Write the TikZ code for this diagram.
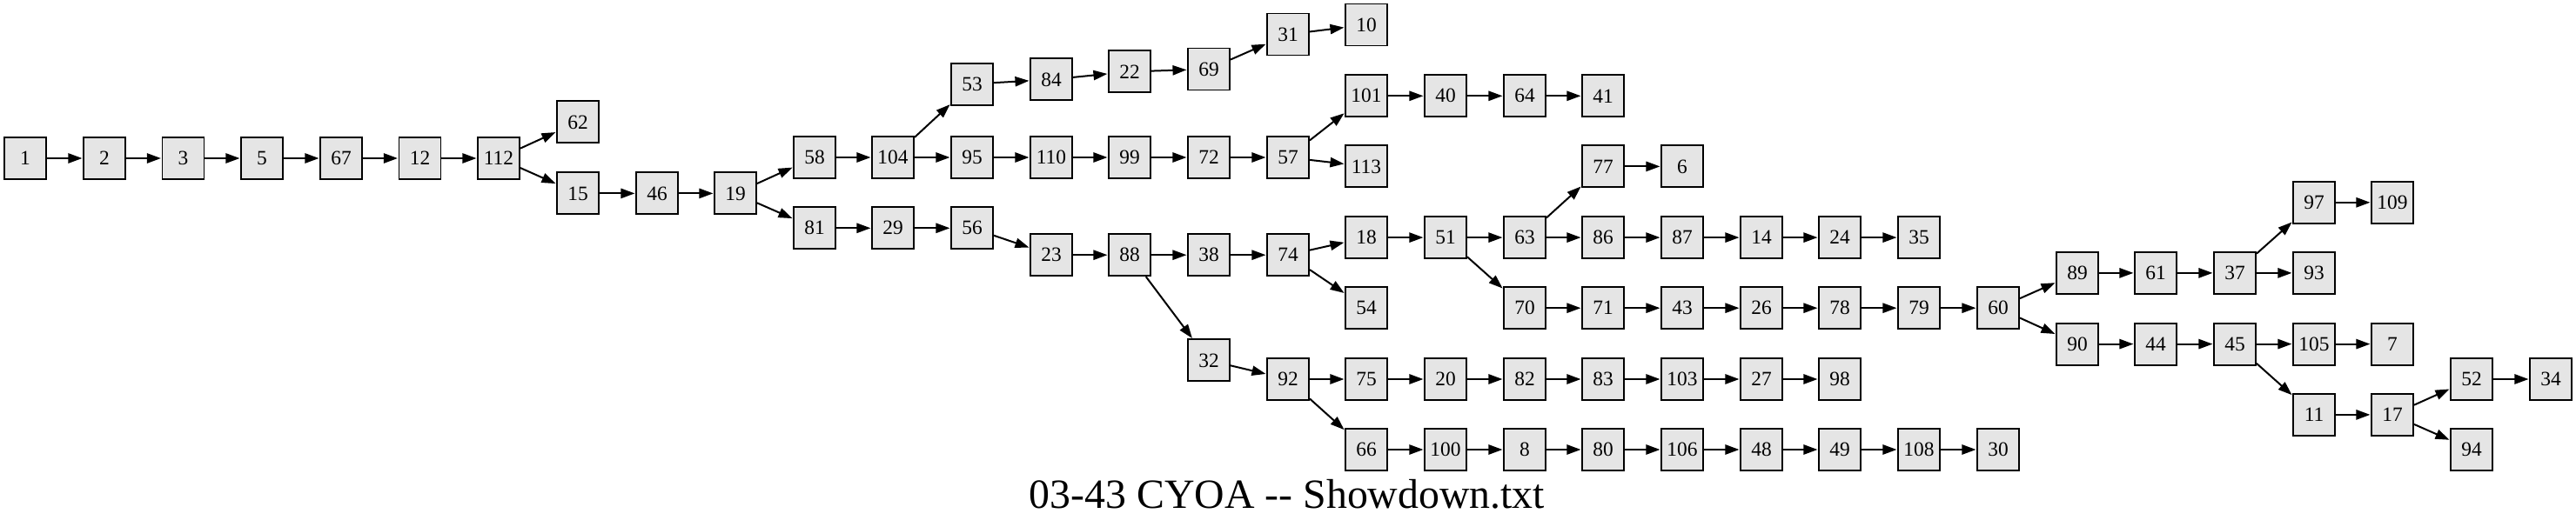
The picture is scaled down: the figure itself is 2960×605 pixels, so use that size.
\documentclass[tikz,border=0pt]{standalone}
\usepackage{fontspec}
\setmainfont{Liberation Serif}
\usetikzlibrary{arrows.meta}
\definecolor{nodefill}{HTML}{E5E5E5}
\tikzset{
  nd/.style={draw=black, fill=nodefill, line width=0.95pt, minimum width=24pt, minimum height=24pt, inner sep=0pt, font=\fontsize{11.7}{14}\selectfont},
  ed/.style={line width=1pt, -{Triangle[length=8pt,width=5.6pt]}, shorten >=0.3pt}
}
\begin{document}
\begin{tikzpicture}[x=0.5pt,y=-0.5pt]
\useasboundingbox (0,0) rectangle (2960,605);
% column 0-9
\node[nd] (n1) at (29,182) {1};
\node[nd] (n2) at (120,182) {2};
\node[nd] (n3) at (210.5,182) {3};
\node[nd] (n5) at (301,182) {5};
\node[nd] (n67) at (392,182) {67};
\node[nd] (n12) at (482.5,182) {12};
\node[nd] (n112) at (573,182) {112};
\node[nd] (n62) at (664,140.4) {62};
\node[nd] (n15) at (664,222.4) {15};
\node[nd] (n46) at (755,222.4) {46};
\node[nd] (n19) at (845,222.4) {19};
% 10-16
\node[nd] (n58) at (936,181) {58};
\node[nd] (n81) at (936,262.3) {81};
\node[nd] (n104) at (1026,181) {104};
\node[nd] (n29) at (1026,262.3) {29};
\node[nd] (n53) at (1117,96.6) {53};
\node[nd] (n95) at (1117,181) {95};
\node[nd] (n56) at (1117,262.3) {56};
\node[nd] (n84) at (1208,91.4) {84};
\node[nd] (n110) at (1208,181) {110};
\node[nd] (n23) at (1208,293.2) {23};
\node[nd] (n22) at (1298,82.4) {22};
\node[nd] (n99) at (1298,181) {99};
\node[nd] (n88) at (1298,293.2) {88};
\node[nd] (n69) at (1389,79.5) {69};
\node[nd] (n72) at (1389,181) {72};
\node[nd] (n38) at (1389,293.2) {38};
\node[nd] (n32) at (1389,414.4) {32};
\node[nd] (n31) at (1480,39.5) {31};
\node[nd] (n57) at (1480,181) {57};
\node[nd] (n74) at (1480,293.2) {74};
\node[nd] (n92) at (1480,436) {92};
% 17
\node[nd] (n10) at (1570,28.5) {10};
\node[nd] (n101) at (1570,110.3) {101};
\node[nd] (n113) at (1570,191.4) {113};
\node[nd] (n18) at (1570,273.1) {18};
\node[nd] (n54) at (1570,354.2) {54};
\node[nd] (n75) at (1570,436) {75};
\node[nd] (n66) at (1570,517) {66};
% 18
\node[nd] (n40) at (1661,110.3) {40};
\node[nd] (n51) at (1661,273.1) {51};
\node[nd] (n20) at (1661,436) {20};
\node[nd] (n100) at (1661,517) {100};
% 19
\node[nd] (n64) at (1752,110.3) {64};
\node[nd] (n63) at (1752,273.1) {63};
\node[nd] (n70) at (1752,354.2) {70};
\node[nd] (n82) at (1752,436) {82};
\node[nd] (n8) at (1752,517) {8};
% 20
\node[nd] (n41) at (1842,110.3) {41};
\node[nd] (n77) at (1842,191.4) {77};
\node[nd] (n86) at (1842,273.1) {86};
\node[nd] (n71) at (1842,354.2) {71};
\node[nd] (n83) at (1842,436) {83};
\node[nd] (n80) at (1842,517) {80};
% 21
\node[nd] (n6) at (1933,191.4) {6};
\node[nd] (n87) at (1933,273.1) {87};
\node[nd] (n43) at (1933,354.2) {43};
\node[nd] (n103) at (1933,436) {103};
\node[nd] (n106) at (1933,517) {106};
% 22
\node[nd] (n14) at (2024,273.1) {14};
\node[nd] (n26) at (2024,354.2) {26};
\node[nd] (n27) at (2024,436) {27};
\node[nd] (n48) at (2024,517) {48};
% 23
\node[nd] (n24) at (2114,273.1) {24};
\node[nd] (n78) at (2114,354.2) {78};
\node[nd] (n98) at (2114,436) {98};
\node[nd] (n49) at (2114,517) {49};
% 24
\node[nd] (n35) at (2205,273.1) {35};
\node[nd] (n79) at (2205,354.2) {79};
\node[nd] (n108) at (2205,517) {108};
% 25
\node[nd] (n60) at (2296,354.2) {60};
\node[nd] (n30) at (2296,517) {30};
% 26-32
\node[nd] (n89) at (2387,313.9) {89};
\node[nd] (n90) at (2387,395.6) {90};
\node[nd] (n61) at (2477,313.9) {61};
\node[nd] (n44) at (2477,395.6) {44};
\node[nd] (n37) at (2568,313.9) {37};
\node[nd] (n45) at (2568,395.6) {45};
\node[nd] (n97) at (2659,232.8) {97};
\node[nd] (n93) at (2659,313.9) {93};
\node[nd] (n105) at (2659,395.6) {105};
\node[nd] (n11) at (2659,476.9) {11};
\node[nd] (n109) at (2749,232.8) {109};
\node[nd] (n7) at (2749,395.6) {7};
\node[nd] (n17) at (2749,476.9) {17};
\node[nd] (n52) at (2840,436) {52};
\node[nd] (n94) at (2840,517) {94};
\node[nd] (n34) at (2931,436) {34};
% title
\node[anchor=base, inner sep=0pt, font=\fontsize{23.9}{28}\selectfont] (title) at (1479,584) {03-43 CYOA -{}- Showdown.txt};
% edges
\foreach \a/\b in {1/2,2/3,3/5,5/67,67/12,12/112,112/62,112/15,15/46,46/19,19/58,19/81,58/104,104/53,104/95,53/84,84/22,22/69,69/31,31/10,95/110,110/99,99/72,72/57,57/101,57/113,101/40,40/64,64/41,81/29,29/56,56/23,23/88,88/38,88/32,38/74,74/18,74/54,18/51,51/63,51/70,63/77,63/86,77/6,86/87,87/14,14/24,24/35,70/71,71/43,43/26,26/78,78/79,79/60,60/89,60/90,89/61,61/37,37/97,37/93,97/109,90/44,44/45,45/105,45/11,105/7,11/17,17/52,17/94,52/34,32/92,92/75,92/66,75/20,20/82,82/83,83/103,103/27,27/98,66/100,100/8,8/80,80/106,106/48,48/49,49/108,108/30}
  \draw[ed] (n\a) -- (n\b);
\end{tikzpicture}
\end{document}
